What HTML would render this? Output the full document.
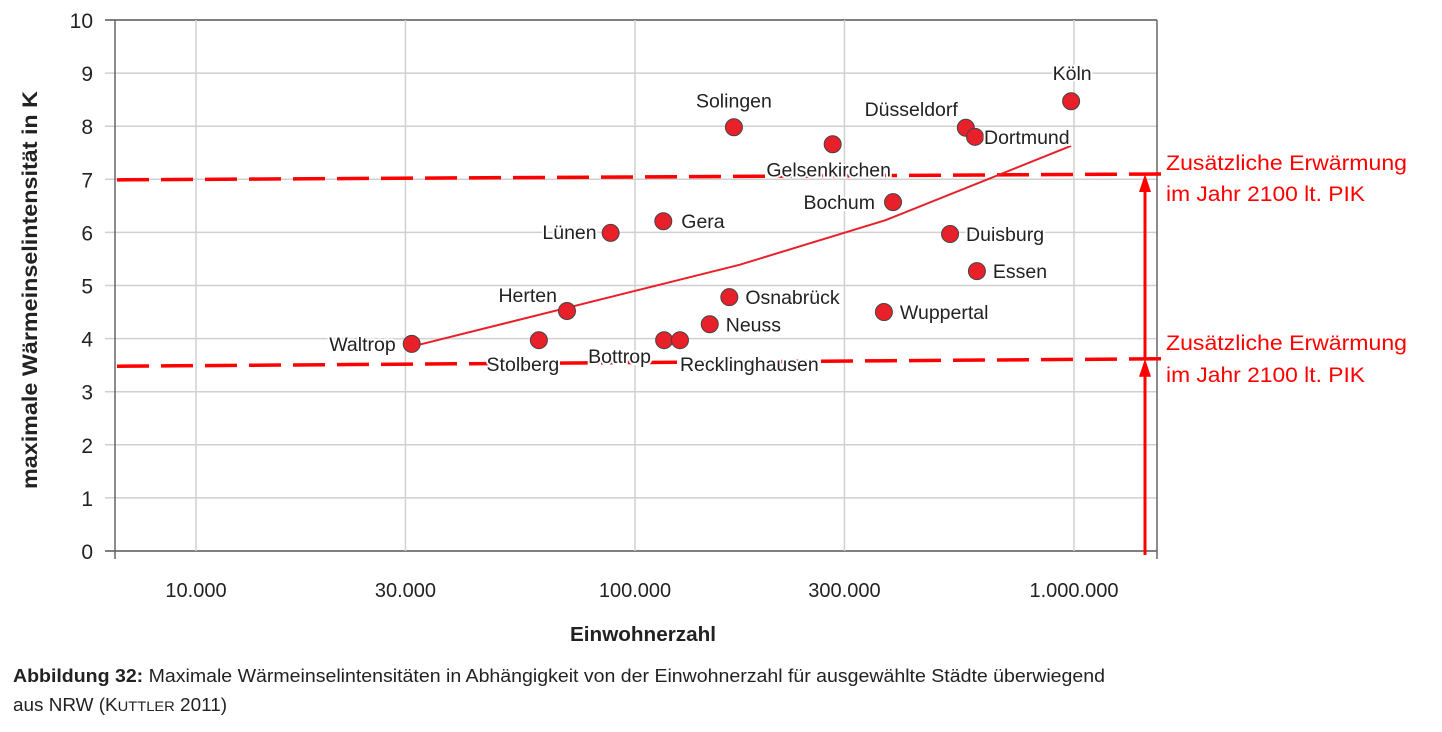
<!DOCTYPE html>
<html><head><meta charset="utf-8">
<style>
html,body{margin:0;padding:0;background:#fff;}
body{width:1442px;height:727px;overflow:hidden;font-family:"Liberation Sans",sans-serif;}
svg text{font-family:"Liberation Sans",sans-serif;}
</style></head>
<body>
<svg id="chart" width="1442" height="727" viewBox="0 0 1442 727" xmlns="http://www.w3.org/2000/svg">
<g id="grid"></g>
<g id="axes"></g>
<g id="refs"></g>
<g id="trend"></g>
<g id="points"></g>
<g id="labels"></g>
<text transform="translate(37,290) rotate(-90)" text-anchor="middle" font-size="21" font-weight="bold" fill="#222" textLength="398" lengthAdjust="spacingAndGlyphs">maximale Wärmeinselintensität in K</text>
<text x="643" y="641" text-anchor="middle" font-size="20" font-weight="bold" fill="#222" textLength="146" lengthAdjust="spacingAndGlyphs">Einwohnerzahl</text>
<text x="13" y="682" font-size="18" fill="#222" textLength="1092" lengthAdjust="spacingAndGlyphs"><tspan font-weight="bold">Abbildung 32:</tspan> Maximale Wärmeinselintensitäten in Abhängigkeit von der Einwohnerzahl für ausgewählte Städte überwiegend</text>
<text x="13" y="711" font-size="18" fill="#222" textLength="214" lengthAdjust="spacingAndGlyphs">aus NRW (K<tspan font-size="14">UTTLER</tspan> 2011)</text>
<text x="1166" y="170" font-size="21" fill="#ff0000" textLength="241" lengthAdjust="spacingAndGlyphs">Zusätzliche Erwärmung</text>
<text x="1166" y="201" font-size="21" fill="#ff0000" textLength="199" lengthAdjust="spacingAndGlyphs">im Jahr 2100 lt. PIK</text>
<text x="1166" y="350" font-size="21" fill="#ff0000" textLength="241" lengthAdjust="spacingAndGlyphs">Zusätzliche Erwärmung</text>
<text x="1166" y="382" font-size="21" fill="#ff0000" textLength="199" lengthAdjust="spacingAndGlyphs">im Jahr 2100 lt. PIK</text>
</svg>
<script>
const cities = ["Waltrop","Stolberg","Herten","Lünen","Gera","Bottrop","Recklinghausen","Neuss","Osnabrück","Solingen","Gelsenkirchen","Wuppertal","Bochum","Duisburg","Düsseldorf","Dortmund","Essen","Köln"];
const population = [31000,60400,70000,88000,116000,116500,126600,148000,164000,168000,282000,369000,387000,522000,567000,595000,601000,985000];
const intensity = [3.9,3.97,4.52,5.99,6.21,3.97,3.97,4.27,4.78,7.98,7.66,4.5,6.57,5.97,7.97,7.8,5.27,8.47];
const trendPop = [31000,173000,372000,985000];
const trendVal = [3.85,5.39,6.23,7.63];
const yTicks = [0,1,2,3,4,5,6,7,8,9,10];
const xTicks = [10000,30000,100000,300000,1000000];
const xTickLabels = ["10.000","30.000","100.000","300.000","1.000.000"];
const refLow = [3.48,3.62];
const refHigh = [6.99,7.1];

const NS="http://www.w3.org/2000/svg";
const X0=115,X1=1157;
function x(v){return 196+439*(Math.log10(v)-4);}
function y(v){return 551-53.1*v;}
function mk(tag,attrs,parent){const e=document.createElementNS(NS,tag);for(const k in attrs)e.setAttribute(k,attrs[k]);parent.appendChild(e);return e;}
const grid=document.getElementById('grid'),axes=document.getElementById('axes');
yTicks.forEach(t=>{
  const l=mk('line',{x1:105,x2:X1,y1:y(t),y2:y(t),stroke:(t===0||t===10)?'#555':'#d0d0d0','stroke-width':1.5},grid);
  
  
  const tx=mk('text',{x:93,y:y(t)+8,'text-anchor':'end','font-size':21,fill:'#222'},axes);
  tx.textContent=t;
  
  
});
xTicks.forEach((t,i)=>{
  const l=mk('line',{x1:x(t),x2:x(t),y1:y(10),y2:y(0),stroke:'#d0d0d0','stroke-width':1.5},grid);
  
  
  const tx=mk('text',{x:x(t),y:597,'text-anchor':'middle','font-size':20,fill:'#222'},axes);
  tx.textContent=xTickLabels[i];
  
  
});
[X0,X1].forEach(xx=>{const l=mk('line',{x1:xx,x2:xx,y1:y(10),y2:y(0)+8,stroke:'#666','stroke-width':1.5},axes);
  
  });
const refs=document.getElementById('refs');
[refHigh,refLow].forEach(r=>{
  const l=mk('line',{x1:117,x2:1163,y1:y(r[0]),y2:y(r[1]),stroke:'#ff0000','stroke-width':3.5,'stroke-dasharray':'32 12'},refs);
  
  
});
[[555,y(refLow[1])],[y(refLow[1]),y(refHigh[1])]].forEach(a=>{
  const l=mk('line',{x1:1145,x2:1145,y1:a[0],y2:a[1]+14,stroke:'#ff0000','stroke-width':3},refs);
  
  
  const p=mk('polygon',{points:`1145,${a[1]} 1139,${a[1]+18} 1151,${a[1]+18}`,fill:'#ff0000'},refs);
  
  
});
const tr=mk('polyline',{points:trendPop.map((p,i)=>x(p)+','+y(trendVal[i])).join(' '),fill:'none',stroke:'#e8202a','stroke-width':2},document.getElementById('trend'));


const lab={"Waltrop":[-16,7,'end'],"Stolberg":[-16,31,'middle'],"Herten":[-10,-9,'end'],"Lünen":[-14,6,'end'],"Gera":[18,7,'start'],"Bottrop":[-76,23,'start'],"Recklinghausen":[0,31,'start'],"Neuss":[16,7,'start'],"Osnabrück":[16,7,'start'],"Solingen":[0,-20,'middle'],"Gelsenkirchen":[-4,32,'middle'],"Wuppertal":[16,7,'start'],"Bochum":[-18,7,'end'],"Duisburg":[16,7,'start'],"Düsseldorf":[-8,-12,'end'],"Dortmund":[9,7,'start'],"Essen":[16,7,'start'],"Köln":[1,-21,'middle']};
const pts=document.getElementById('points'),lbl=document.getElementById('labels');
cities.forEach((c,i)=>{
  const cx=x(population[i]),cy=y(intensity[i]);
  const L=lab[c];
  const t=mk('text',{x:cx+L[0],y:cy+L[1],'text-anchor':L[2],'font-size':19.5,fill:'#222',stroke:'#fff','stroke-width':4,'paint-order':'stroke'},lbl);
  t.textContent=c;
  
  
  const d=mk('circle',{cx:cx,cy:cy,r:8.5,fill:'#e8202a',stroke:'#444','stroke-width':1},pts);
  
  
});
</script>
</body></html>
